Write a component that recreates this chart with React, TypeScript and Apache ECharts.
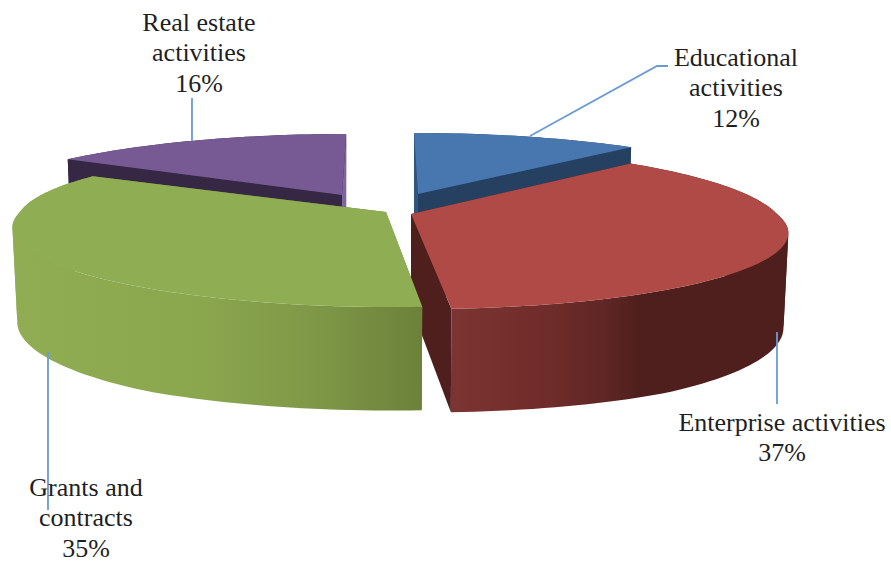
import React, { useEffect, useRef } from "react";
import * as echarts from "echarts";

// Slices run clockwise; the list starts with the slice that ends at twelve o'clock,
// which also gives the painter's order from back to front.
const categories = ["Real estate activities", "Educational activities", "Enterprise activities", "Grants and contracts"];
const shares = [16, 12, 37, 35];
const labelLines = [
  ["Real estate", "activities"],
  ["Educational", "activities"],
  ["Enterprise activities"],
  ["Grants and", "contracts"],
];
const labelCentres = [[199, 7], [736, 42], [782, 407], [86, 472]];
const leaderLines = [
  [[192, 98], [192, 141]],
  [[530, 136], [657, 66], [668, 66]],
  [[777, 332], [777, 404]],
  [[48, 352], [48, 510]],
];

// Where each pulled-out slice has its tip on the top plane.
const sliceTips = [[342, 195], [418, 194], [411, 214], [386, 212]];
// Extra horizontal lean and rise of the far part of each slice's rim.
const farLean = [0, 0, -8, 30];
const farRise = [0, 0, 5, 0];
const topColours = ["#775a94", "#4876ae", "#af4a46", "#8fad53"];
const startWallColours = ["#362744", "#2f5580", "#4f1f1d", "#6c8139"];
const endWallColours = ["#7d659f", "#254061", "#4f1f1d", "#6c8139"];
const sideStops: [number, string][][] = [
  [[0, "#362744"], [1, "#362744"]],
  [[0, "#254061"], [1, "#254061"]],
  [[0, "#7b3431"], [0.28, "#702c2a"], [0.45, "#5f2725"], [0.56, "#4f1f1d"], [1, "#4f1f1d"]],
  [[0, "#90ad54"], [0.45, "#8ba74e"], [0.75, "#7e9747"], [1, "#6c8139"]],
];
const sideExtents = [[60, 350], [414, 632], [452, 787], [13, 423]];

const RX = 366;
const RY = 74.3;
const PERSPECTIVE = 0.218;
const VANISH_X = 381;
const CONVERGE = 0.6;
const NEAR_SKEW = 6;
const WALL_HEIGHT = 92;
const TAPER = 0.013;
const ARC_STEP = 1.5;
const TOTAL = shares.reduce((a, b) => a + b, 0);
const FIRST_ANGLE = -(shares[0] / TOTAL) * 360;

type Pt = [number, number];

// Projects an angle on the disc (degrees clockwise from twelve) to the top plane.
function topPoint(i: number, deg: number): Pt {
  const tip = sliceTips[i];
  const rad = (deg * Math.PI) / 180;
  const u = Math.sin(rad);
  const v = -Math.cos(rad);
  const s = 1 / (1 - PERSPECTIVE * v);
  const x =
    tip[0] +
    RX * u * s +
    CONVERGE * (VANISH_X - tip[0]) * (1 - s) +
    NEAR_SKEW * Math.max(v, 0) +
    farLean[i] * Math.min(v, 0);
  return [x, tip[1] + RY * v * s + farRise[i] * Math.min(v, 0)];
}

// Drops a top-plane point to the bottom plane of the pie.
function bottomPoint(tip: number[], p: Pt): Pt {
  const v = (p[1] - tip[1]) / RY;
  return [p[0] + (tip[0] - p[0]) * TAPER, p[1] + WALL_HEIGHT * (1 + 0.125 * Math.max(-1, Math.min(1, v)))];
}

function arcPoints(i: number, from: number, to: number): Pt[] {
  const pts: Pt[] = [];
  const n = Math.ceil((to - from) / ARC_STEP);
  for (let k = 0; k <= n; k++) pts.push(topPoint(i, from + ((to - from) * k) / n));
  return pts;
}

// Cuts an arc where it turns back horizontally, so each rim band is a simple polygon.
function monotonicRuns(arc: Pt[]): Pt[][] {
  const runs: Pt[][] = [];
  let run: Pt[] = [arc[0]];
  let dir = 0;
  for (let k = 1; k < arc.length; k++) {
    const d = Math.sign(arc[k][0] - arc[k - 1][0]);
    if (dir !== 0 && d !== 0 && d !== dir) {
      runs.push(run);
      run = [arc[k - 1]];
    }
    if (d !== 0) dir = d;
    run.push(arc[k]);
  }
  runs.push(run);
  return runs;
}

function poly(points: Pt[], fill: any) {
  return { type: "polygon", shape: { points }, style: { fill, stroke: "none" } };
}

function renderSlice(params: any, api: any) {
  const i = params.dataIndex;
  const before = shares.slice(0, i).reduce((a, b) => a + b, 0);
  const from = FIRST_ANGLE + (before / TOTAL) * 360;
  const to = from + (api.value(0) / TOTAL) * 360;
  const tip = sliceTips[i];
  const tipTop: Pt = [tip[0], tip[1]];
  const tipBottom = bottomPoint(tip, tipTop);

  const arc = arcPoints(i, from, to);
  const first = arc[0];
  const last = arc[arc.length - 1];
  const startWall = poly([tipTop, first, bottomPoint(tip, first), tipBottom], startWallColours[i]);
  const endWall = poly([tipTop, last, bottomPoint(tip, last), tipBottom], endWallColours[i]);
  const sideFill = new echarts.graphic.LinearGradient(
    sideExtents[i][0], 0, sideExtents[i][1], 0,
    sideStops[i].map(([offset, color]) => ({ offset, color })),
    true
  );
  const sides = monotonicRuns(arc).map((run) =>
    poly([...run, ...run.slice().reverse().map((p) => bottomPoint(tip, p))], sideFill)
  );
  const top = poly([tipTop, ...arc], topColours[i]);

  // The rim faces the viewer only on the nearer slices, where it hides the cut walls.
  const mid = ((from + to) / 2) * (Math.PI / 180);
  const nearSlice = -Math.cos(mid) > 0;
  const children = nearSlice ? [startWall, endWall, ...sides, top] : [...sides, startWall, endWall, top];
  return { type: "group", children };
}

const FONT = '"Liberation Serif", "Times New Roman", serif';

export default function App() {
  const ref = useRef<HTMLDivElement>(null);
  useEffect(() => {
    const chart = echarts.init(ref.current!, undefined, { renderer: "svg" });
    chart.setOption({
      animation: false,
      backgroundColor: "#ffffff",
      series: [
        {
          type: "custom",
          name: "Share of income",
          coordinateSystem: "none",
          silent: true,
          data: shares.map((value, i) => ({ name: categories[i], value: [value] })),
          renderItem: renderSlice,
          z: 1,
        },
      ],
      graphic: [
        ...leaderLines.map((points) => ({
          type: "polyline",
          z: 5,
          shape: { points },
          style: { stroke: "#6b9bd5", lineWidth: 1.8, fill: "none" },
        })),
        ...shares.map((value, i) => ({
          type: "text",
          z: 6,
          x: labelCentres[i][0],
          y: labelCentres[i][1],
          style: {
            text: [...labelLines[i], `${value}%`].join("\n"),
            font: `26px ${FONT}`,
            lineHeight: 30.5,
            align: "center",
            verticalAlign: "top",
            fill: "#1f1f1f",
          },
        })),
      ],
    });
    return () => chart.dispose();
  }, []);
  return <div ref={ref} style={{ position: "absolute", left: 0, top: 0, width: 891, height: 562 }} />;
}
